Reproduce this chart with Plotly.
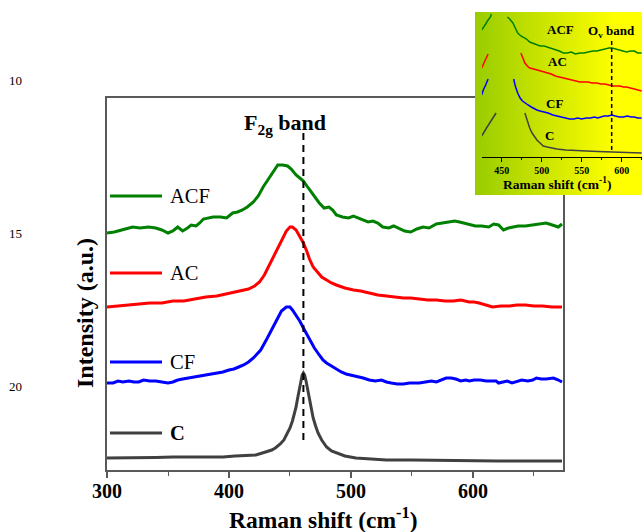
import plotly.graph_objects as go

# ---------------- data (main panel) ----------------
acf_x = [300, 306, 312, 318, 321, 327, 334, 340, 345, 350, 354, 358, 362, 366, 369, 373, 376, 379, 383, 387,
         393, 398, 403, 407, 411, 415, 420, 424, 428, 433, 437, 440, 444, 448, 451, 455, 458, 461, 465, 470,
         474, 478, 482, 485, 488, 493, 498, 502, 506, 510, 514, 518, 522, 526, 531, 535, 539, 544, 549, 554,
         559, 564, 570, 575, 580, 585, 589, 595, 602, 607, 613, 617, 621, 625, 629, 633, 637, 643, 649, 655,
         660, 665, 670, 673]
acf_y = [237, 238, 240, 242, 243, 242, 243, 242, 240, 237, 239, 243, 239, 242, 245, 244, 247, 251, 252, 253,
         253, 252, 257, 258, 260, 263, 268, 274, 283, 292, 299, 305, 305, 304, 301, 295, 292, 289, 282, 273,
         267, 262, 263, 260, 255, 253, 252, 254, 252, 250, 248, 249, 247, 243, 242, 244, 242, 239, 238, 241,
         243, 242, 246, 247, 248, 249, 248, 246, 244, 244, 243, 246, 245, 240, 242, 243, 244, 244, 245, 246,
         247, 245, 243, 246]

ac_x = [300, 308, 316, 326, 335, 345, 354, 363, 372, 381, 390, 398, 403, 410, 416, 421, 425, 429, 433, 436,
        438, 441, 444, 447, 450, 452, 455, 458, 461, 464, 466, 469, 473, 476, 480, 484, 488, 495, 502, 508,
        515, 522, 529, 536, 543, 549, 556, 563, 570, 577, 584, 590, 597, 601, 605, 610, 616, 623, 630, 636,
        643, 650, 657, 665, 673]
ac_y = [163, 164, 165, 166, 167, 167, 169, 169, 171, 173, 174, 176, 177, 179, 181, 184, 188, 195, 205, 212,
        217, 225, 233, 239, 243, 243, 240, 234, 227, 218, 211, 203, 197, 193, 190, 187, 185, 182, 180, 179,
        177, 175, 174, 173, 172, 172, 171, 170, 170, 169, 169, 170, 168, 168, 167, 165, 163, 164, 164, 165,
        165, 164, 164, 163, 163]

cf_x = [300, 305, 309, 313, 318, 322, 326, 330, 335, 340, 345, 350, 354, 358, 362, 367, 372, 376, 381, 386,
        390, 395, 400, 404, 408, 412, 416, 420, 423, 426, 431, 436, 440, 443, 447, 450, 452, 455, 458, 461,
        465, 470, 474, 477, 480, 484, 488, 492, 496, 500, 505, 510, 515, 520, 525, 529, 533, 538, 543, 548,
        552, 556, 561, 566, 570, 574, 578, 582, 586, 590, 594, 597, 601, 606, 611, 615, 619, 621, 625, 628,
        632, 635, 640, 645, 649, 652, 656, 660, 666, 670, 673]
cf_y = [87, 87, 89, 88, 89, 88, 88, 90, 89, 89, 88, 87, 88, 90, 91, 92, 93, 94, 95, 96,
        97, 98, 100, 101, 103, 105, 108, 112, 116, 120, 131, 143, 152, 159, 163, 163, 160, 155, 149, 142,
        133, 122, 115, 110, 107, 104, 101, 98, 96, 95, 94, 92, 90, 89, 90, 88, 87, 86, 86, 87,
        87, 87, 88, 89, 88, 90, 92, 92, 91, 89, 90, 89, 90, 90, 89, 89, 89, 87, 88, 89,
        87, 88, 90, 89, 90, 92, 91, 91, 92, 90, 88]

c_x = [300, 320, 340, 354, 370, 385, 395, 405, 415, 422, 430, 435, 438, 442, 445, 448, 450, 452, 454, 455,
       456, 457, 458, 459, 460, 461, 462, 463, 464, 465, 466, 467, 469, 471, 473, 476, 480, 484, 488, 495,
       504, 515, 529, 550, 580, 620, 673]
c_y = [12, 12, 12.5, 13, 13, 13, 13, 14, 14.5, 15, 18, 20, 22, 26, 30, 37, 42, 49, 58, 63,
       70, 77, 84, 90, 95, 97, 95, 90, 84, 77, 70, 63, 52, 44, 37, 30, 23, 19, 17, 14,
       12, 11, 10, 10, 9.5, 9, 9]

# ---------------- data (inset, gaps = out of view) ----------------
in_acf_x = [425, 427, 430, 433, 436, 437, None, 457, 460, 464, 467, 470, 474, 477, 481, 485, 489, 493, 498,
            503, 507, 512, 517, 522, 527, 532, 537, 542, 548, 553, 558, 564, 569, 574, 579, 584, 588, 593,
            598, 602, 606, 611, 616, 620, 625]
in_acf_y = [127, 129, 133, 137, 140, 143, None, 140, 138, 134, 129, 124, 121, 120, 118, 115, 114, 113, 111,
            111, 110, 109, 107, 106, 104, 104, 105, 103, 104, 104, 105, 106, 106, 107, 108, 109, 109, 108,
            107, 106, 105, 106, 106, 104, 104]

in_ac_x = [425, 427, 430, 433, None, 474, 477, 479, 482, 485, 490, 495, 500, 507, 512, 517, 522, 527, 532,
           537, 542, 548, 553, 558, 563, 569, 574, 579, 584, 589, 594, 598, 602, 606, 611, 616, 620, 625]
in_ac_y = [89, 93, 98, 103, None, 104, 98, 94, 91, 89, 88, 87, 86, 84, 83, 81, 80, 79, 78,
           77, 76, 75, 75, 75, 74, 74, 73, 73, 72, 71, 71, 71, 70, 70, 69, 68, 67, 66]

in_cf_x = [425, 427, 430, 433, None, 465, 467, 470, 473, 476, 479, 483, 487, 491, 494, 498, 503, 508, 514,
           519, 524, 530, 535, 540, 545, 550, 556, 561, 566, 570, 573, 578, 583, 588, 592, 597, 602, 607,
           612, 616, 620, 625]
in_cf_y = [62, 67, 72, 78, None, 78, 71, 64, 59, 56, 54, 52, 50, 48, 47, 46, 45, 44, 42,
           41, 40, 39, 38, 38, 39, 38, 39, 39, 40, 39, 40, 41, 41, 42, 41, 40, 40, 41,
           40, 40, 39, 39]

in_c_x = [425, 427, 431, 435, 439, 443, None, 479, 481, 483, 485, 488, 491, 494, 498, 502, 507, 513, 519,
          530, 545, 556, 570, 585, 598, 612, 625]
in_c_y = [21, 24, 29, 34, 39, 44, None, 44, 39, 34, 29, 24, 20, 17, 14, 11, 10, 9, 8,
          7, 6, 6, 5.5, 5, 5, 4.5, 4]

x_ticks = [300, 400, 500, 600]
inset_ticks = [450, 500, 550, 600]
f2g_pos = 461
ov_pos = 587.5

# ---------------- styling ----------------
W, H = 642, 532
SERIF = "Liberation Serif"
GREEN, RED, BLUE, GRAY = "#008000", "#ff0000", "#0000ff", "#404040"
FRAME = "#595959"


def px(xp):
    return xp / W


def py(yp):
    return (H - yp) / H


fig = go.Figure()

# main curves
for xs, ys, col in [(acf_x, acf_y, GREEN), (ac_x, ac_y, RED), (cf_x, cf_y, BLUE), (c_x, c_y, GRAY)]:
    fig.add_trace(go.Scatter(x=xs, y=ys, mode="lines", line=dict(color=col, width=3),
                             xaxis="x", yaxis="y", showlegend=False, hoverinfo="skip"))

# inset gradient background
fig.add_trace(go.Heatmap(z=[[0, 0, 1, 1], [0, 0, 1, 1]], x=[440, 475, 615, 700], y=[0, 1],
                         colorscale=[[0, "#99cc00"], [1, "#ffff00"]], showscale=False,
                         zsmooth="best", xaxis="x2", yaxis="y2", hoverinfo="skip"))

# inset curves
for xs, ys, col in [(in_acf_x, in_acf_y, GREEN), (in_ac_x, in_ac_y, RED),
                    (in_cf_x, in_cf_y, BLUE), (in_c_x, in_c_y, GRAY)]:
    fig.add_trace(go.Scatter(x=xs, y=ys, mode="lines", line=dict(color=col, width=1.5),
                             connectgaps=False, xaxis="x3", yaxis="y3", showlegend=False, hoverinfo="skip"))

shapes = [
    dict(type="line", xref="x", yref="y", x0=f2g_pos, x1=f2g_pos, y0=30, y1=338,
         line=dict(color="black", width=2, dash="7px,5px")),
    dict(type="line", xref="x3", yref="y3", x0=ov_pos, x1=ov_pos, y0=7, y1=117,
         line=dict(color="black", width=1.5, dash="4px,3px")),
]
legend_rows = [("ACF", GREEN, 196, False), ("AC", RED, 273, False), ("CF", BLUE, 362, False), ("C", GRAY, 433, True)]
annotations = []
for name, col, yy, bold in legend_rows:
    shapes.append(dict(type="line", xref="paper", yref="paper", x0=px(110), x1=px(162), y0=py(yy), y1=py(yy),
                       line=dict(color=col, width=3)))
    annotations.append(dict(text=f"<b>{name}</b>" if bold else name, x=px(168), y=py(yy), xref="paper",
                            yref="paper", showarrow=False, xanchor="left", yanchor="middle",
                            font=dict(family=SERIF, size=20.5, color="black")))


def ann(text, x, y, size, xanchor="center", angle=0):
    annotations.append(dict(text=text, x=px(x), y=py(y), xref="paper", yref="paper", showarrow=False,
                            xanchor=xanchor, yanchor="middle", textangle=angle,
                            font=dict(family=SERIF, size=size, color="black")))


ann("<b>F<sub>2g</sub> band</b>", 285, 124, 22)
ann("<b>Intensity (a.u.)</b>", 85, 313, 24, angle=-90)
ann("<b>Raman shift (cm<sup>-1</sup>)</b>", 324, 518, 23.5)
for t, yy in [("10", 80), ("15", 233), ("20", 386)]:
    ann(t, 15, yy, 13)
# inset texts
ann("<b>ACF</b>", 560, 30, 13)
ann("<b>O<sub>v</sub> band</b>", 611, 31, 13)
ann("<b>AC</b>", 557, 62, 13)
ann("<b>CF</b>", 554, 103, 13)
ann("<b>C</b>", 549, 135, 13)
ann("<b>Raman shift (cm<sup>-1</sup>)</b>", 557, 183, 13.5)

fig.update_layout(
    width=W, height=H,
    margin=dict(l=0, r=0, t=0, b=0, autoexpand=False),
    paper_bgcolor="white", plot_bgcolor="rgba(0,0,0,0)",
    showlegend=False,
    shapes=shapes, annotations=annotations,
    xaxis=dict(domain=[px(107), px(563)], range=[300, 673.8], tickvals=x_ticks,
               ticks="outside", ticklen=6, tickwidth=1.5, tickcolor=FRAME, ticklabelstandoff=-4,
               minor=dict(tickvals=[350, 450, 550, 650], ticks="outside", ticklen=4, tickwidth=1, tickcolor=FRAME),
               showline=True, linecolor=FRAME, linewidth=2, mirror=True, showgrid=False, zeroline=False,
               tickfont=dict(family=SERIF, size=20, color="black", weight="bold"), anchor="y",
               automargin=False),
    yaxis=dict(domain=[py(470), py(98)], range=[0, 372], showticklabels=False, ticks="",
               showline=True, linecolor=FRAME, linewidth=2, mirror=True, showgrid=False, zeroline=False,
               anchor="x", automargin=False),
    xaxis2=dict(domain=[px(475), 1], range=[475, 642], visible=False, fixedrange=True, anchor="y2"),
    yaxis2=dict(domain=[py(195), py(12)], range=[0, 1], visible=False, fixedrange=True, anchor="x2"),
    xaxis3=dict(domain=[px(482), 1], range=[425.4, 625.4], tickvals=inset_ticks,
                ticks="outside", ticklen=4, tickwidth=1, tickcolor="black",
                minor=dict(tickvals=[475, 525, 575, 625], ticks="outside", ticklen=2, tickwidth=1, tickcolor="black"),
                showline=True, linecolor="black", linewidth=1.2, showgrid=False, zeroline=False,
                tickfont=dict(family=SERIF, size=10, color="black", weight="bold"), anchor="y3",
                automargin=False),
    yaxis3=dict(domain=[py(157), py(12)], range=[0, 145], visible=False, anchor="x3"),
)

fig.write_html("out.html")
